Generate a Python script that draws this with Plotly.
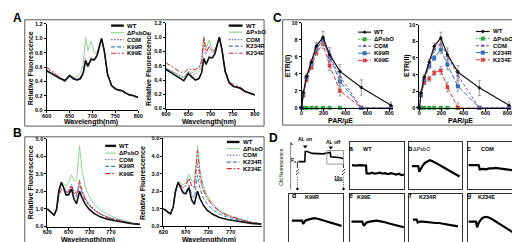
import plotly.graph_objects as go

W, H = 520, 242
FONT = "Liberation Sans"

# ---------------- data ----------------
names_L = ["WT", "ΔPsbO", "COM", "K99R", "K99E"]
names_R = ["WT", "ΔPsbO", "COM", "K234R", "K234E"]

wl_A = [600, 610, 620, 630, 640, 650, 658, 666, 674, 680, 685, 690, 697, 704, 710, 715, 720, 726, 733, 742, 752, 765, 778, 790, 800]
A1_WT = [0.55, 0.51, 0.48, 0.44, 0.41, 0.48, 0.44, 0.42, 0.44, 0.52, 0.69, 0.61, 0.71, 0.70, 0.76, 0.90, 1.00, 0.82, 0.50, 0.34, 0.29, 0.27, 0.22, 0.20, 0.18]
A1_PsbO = [0.55, 0.51, 0.48, 0.44, 0.42, 0.49, 0.46, 0.46, 0.52, 0.64, 1.02, 0.83, 0.96, 0.80, 0.80, 0.92, 1.00, 0.82, 0.50, 0.34, 0.29, 0.27, 0.22, 0.20, 0.18]
A1_COM = [0.58, 0.54, 0.50, 0.45, 0.42, 0.49, 0.45, 0.43, 0.46, 0.54, 0.72, 0.63, 0.73, 0.71, 0.77, 0.90, 1.00, 0.82, 0.50, 0.34, 0.29, 0.27, 0.22, 0.20, 0.18]
A1_K99R = [0.54, 0.50, 0.47, 0.43, 0.40, 0.47, 0.43, 0.41, 0.43, 0.51, 0.68, 0.60, 0.70, 0.69, 0.76, 0.90, 1.00, 0.81, 0.49, 0.33, 0.28, 0.26, 0.21, 0.19, 0.17]
A1_K99E = [0.60, 0.55, 0.50, 0.45, 0.42, 0.49, 0.45, 0.42, 0.45, 0.53, 0.70, 0.62, 0.71, 0.70, 0.76, 0.90, 1.00, 0.82, 0.50, 0.34, 0.29, 0.27, 0.22, 0.20, 0.18]

A2_WT = [0.55, 0.51, 0.47, 0.43, 0.39, 0.49, 0.44, 0.40, 0.42, 0.50, 0.70, 0.62, 0.72, 0.71, 0.77, 0.90, 1.00, 0.82, 0.52, 0.36, 0.31, 0.29, 0.24, 0.21, 0.19]
A2_PsbO = [0.56, 0.53, 0.50, 0.46, 0.44, 0.52, 0.50, 0.52, 0.56, 0.66, 1.02, 0.84, 0.96, 0.82, 0.82, 0.92, 1.00, 0.82, 0.52, 0.36, 0.31, 0.29, 0.24, 0.21, 0.19]
A2_COM = [0.57, 0.54, 0.50, 0.46, 0.43, 0.51, 0.48, 0.48, 0.52, 0.60, 0.90, 0.76, 0.88, 0.78, 0.80, 0.91, 1.00, 0.82, 0.52, 0.36, 0.31, 0.29, 0.24, 0.21, 0.19]
A2_K234R = [0.54, 0.50, 0.46, 0.42, 0.39, 0.48, 0.43, 0.40, 0.42, 0.50, 0.71, 0.63, 0.71, 0.71, 0.77, 0.90, 1.00, 0.82, 0.52, 0.36, 0.31, 0.29, 0.24, 0.21, 0.19]
A2_K234E = [0.64, 0.60, 0.56, 0.52, 0.50, 0.56, 0.54, 0.55, 0.58, 0.67, 1.00, 0.80, 0.86, 0.80, 0.82, 0.92, 1.00, 0.83, 0.54, 0.38, 0.33, 0.31, 0.25, 0.22, 0.20]

wl_B = [620, 628, 636, 642, 647, 653, 658, 664, 670, 677, 683, 689, 696, 702, 709, 718, 730, 745, 762, 780, 800, 820, 838]
B1_WT = [1.00, 0.85, 0.65, 1.00, 2.00, 2.52, 2.25, 1.80, 1.80, 2.15, 1.55, 1.30, 2.00, 1.65, 1.30, 1.00, 0.75, 0.55, 0.42, 0.33, 0.24, 0.16, 0.12]
B1_PsbO = [1.00, 0.85, 0.65, 1.00, 2.00, 2.55, 2.45, 2.30, 2.50, 2.95, 2.60, 2.65, 4.60, 3.20, 2.30, 1.75, 1.30, 0.95, 0.70, 0.50, 0.35, 0.22, 0.15]
B1_COM = [1.00, 0.85, 0.65, 1.00, 1.95, 2.45, 2.30, 2.00, 2.05, 2.40, 2.00, 1.90, 2.45, 2.05, 1.65, 1.30, 1.00, 0.75, 0.55, 0.42, 0.30, 0.19, 0.13]
B1_K99R = [1.00, 0.85, 0.65, 1.00, 1.90, 2.45, 2.25, 1.90, 1.95, 2.30, 1.85, 1.70, 2.30, 1.90, 1.55, 1.20, 0.95, 0.70, 0.52, 0.40, 0.28, 0.18, 0.13]
B1_K99E = [1.00, 0.85, 0.65, 0.95, 1.70, 2.10, 2.05, 1.90, 2.00, 2.35, 1.90, 1.80, 2.65, 2.00, 1.60, 1.25, 0.95, 0.70, 0.52, 0.40, 0.28, 0.18, 0.13]

B2_WT = [1.00, 0.85, 0.70, 1.10, 2.00, 2.50, 2.20, 1.90, 1.85, 2.20, 1.50, 1.25, 2.00, 1.55, 1.20, 0.90, 0.68, 0.50, 0.38, 0.30, 0.22, 0.15, 0.12]
B2_PsbO = [1.00, 0.85, 0.70, 1.10, 2.00, 2.55, 2.45, 2.35, 2.50, 2.95, 2.60, 2.50, 4.60, 3.10, 2.30, 1.75, 1.30, 0.92, 0.68, 0.50, 0.36, 0.22, 0.15]
B2_COM = [1.00, 0.85, 0.70, 1.10, 2.00, 2.50, 2.35, 2.20, 2.30, 2.70, 2.30, 2.20, 3.60, 2.60, 2.00, 1.55, 1.15, 0.82, 0.60, 0.45, 0.32, 0.20, 0.14]
B2_K234R = [1.00, 0.85, 0.70, 1.10, 1.95, 2.45, 2.25, 1.95, 1.95, 2.35, 1.80, 1.60, 2.90, 2.10, 1.60, 1.25, 0.95, 0.70, 0.52, 0.40, 0.28, 0.18, 0.13]
B2_K234E = [1.00, 0.85, 0.70, 1.10, 1.95, 2.45, 2.35, 2.20, 2.35, 2.75, 2.30, 2.20, 4.30, 2.90, 2.10, 1.60, 1.20, 0.85, 0.62, 0.47, 0.33, 0.20, 0.14]

PAR = [0, 15, 45, 90, 135, 195, 255, 350, 545, 815]
C1_WT = [0, 1.8, 3.7, 5.4, 7.3, 8.3, 6.3, 4.3, 2.4, 0.3]
C1_PsbO = [0, 0, 0, 0, 0, 0, 0, 0, 0, 0]
C1_COM = [0, 1.7, 3.6, 5.2, 7.0, 7.9, 6.1, 3.7, 0, 0]
C1_K99R = [0, 1.7, 3.6, 5.2, 7.0, 8.0, 6.0, 3.1, 0, 0]
C1_K99E = [0, 1.5, 3.3, 4.8, 6.5, 7.5, 5.0, 2.0, 0, 0]
C2_WT = [0, 1.8, 3.7, 5.5, 7.4, 8.4, 6.4, 4.3, 2.4, 0.3]
C2_PsbO = [0, 0, 0, 0, 0, 0, 0, 0, 0, 0]
C2_COM = [0, 1.7, 3.5, 5.2, 7.0, 7.7, 6.2, 3.9, 0, 0]
C2_K234R = [0, 1.6, 3.4, 5.0, 6.0, 7.0, 5.2, 2.6, 0, 0]
C2_K234E = [0, 1.5, 3.0, 3.5, 4.2, 4.5, 2.5, 0, 0, 0]
err_WT = [0, 0.2, 0.3, 0.3, 0.4, 0.7, 0.8, 0.8, 0.9, 0.4]
err_mut = [0, 0.2, 0.2, 0.3, 0.3, 0.5, 0.6, 0.6, 0, 0]

# D: schematic (time units, fluorescence units)
schem_t = [8, 14.5, 15, 17, 22, 27, 33, 38, 40.5, 41, 47, 51, 54]
schem_f = [30.5, 30.5, 41, 41, 39, 38.5, 38.5, 39.5, 40, 35.5, 35, 34.5, 33.5]

# D: traces per strain (relative time, relative fluorescence)
D_labels = ["a", "b", "c", "d", "e", "f", "g"]
D_names = ["WT", "ΔPsbO", "COM", "K99R", "K99E", "K234R", "K234E"]
Da_t = [0.03, 0.10, 0.17, 0.24, 0.29, 0.30, 0.35, 0.40, 0.45, 0.50, 0.55, 0.60, 0.65, 0.70, 0.75, 0.80, 0.85, 0.90, 0.95, 0.99]
Da_f = [0.51, 0.50, 0.51, 0.50, 0.50, 0.34, 0.33, 0.35, 0.33, 0.34, 0.35, 0.33, 0.34, 0.32, 0.34, 0.33, 0.31, 0.33, 0.30, 0.31]
Db_t = [0.05, 0.10, 0.17, 0.19, 0.22, 0.26, 0.30, 0.34, 0.39, 0.44, 0.50, 0.56, 0.62, 0.68, 0.74, 0.80, 0.86, 0.91, 0.95]
Db_f = [0.49, 0.49, 0.49, 0.37, 0.44, 0.51, 0.56, 0.59, 0.61, 0.59, 0.56, 0.52, 0.48, 0.44, 0.40, 0.36, 0.33, 0.30, 0.27]
Dc_t = [0.01, 0.08, 0.15, 0.20, 0.22, 0.28, 0.34, 0.40, 0.46, 0.52, 0.58, 0.64, 0.70, 0.76, 0.82, 0.88, 0.94, 0.98]
Dc_f = [0.51, 0.51, 0.51, 0.51, 0.42, 0.43, 0.42, 0.44, 0.44, 0.45, 0.44, 0.43, 0.43, 0.42, 0.41, 0.40, 0.39, 0.38]
Dd_t = [0.06, 0.12, 0.18, 0.25, 0.27, 0.31, 0.36, 0.42, 0.48, 0.54, 0.60, 0.66, 0.72, 0.78, 0.84, 0.90, 0.95, 0.98]
Dd_f = [0.45, 0.45, 0.45, 0.45, 0.38, 0.45, 0.47, 0.49, 0.50, 0.49, 0.47, 0.45, 0.43, 0.41, 0.39, 0.37, 0.35, 0.34]
De_t = [0.02, 0.08, 0.14, 0.22, 0.25, 0.30, 0.36, 0.42, 0.48, 0.54, 0.60, 0.66, 0.72, 0.78, 0.84, 0.90, 0.96, 0.99]
De_f = [0.43, 0.43, 0.43, 0.43, 0.34, 0.41, 0.43, 0.44, 0.45, 0.44, 0.43, 0.41, 0.39, 0.37, 0.35, 0.33, 0.32, 0.31]
Df_t = [0.07, 0.11, 0.14, 0.16, 0.20, 0.26, 0.32, 0.38, 0.44, 0.50, 0.56, 0.62, 0.68, 0.74, 0.80, 0.86, 0.92]
Df_f = [0.47, 0.47, 0.47, 0.41, 0.43, 0.43, 0.42, 0.42, 0.41, 0.40, 0.40, 0.39, 0.38, 0.37, 0.36, 0.34, 0.33]
Dg_t = [0.01, 0.07, 0.15, 0.17, 0.20, 0.24, 0.28, 0.33, 0.38, 0.44, 0.50, 0.56, 0.62, 0.68, 0.74, 0.80, 0.86, 0.92, 0.97]
Dg_f = [0.43, 0.43, 0.43, 0.31, 0.40, 0.47, 0.51, 0.53, 0.52, 0.49, 0.45, 0.41, 0.37, 0.33, 0.29, 0.25, 0.21, 0.16, 0.12]

# ---------------- styles / layout helpers ----------------
spec_style = [
    dict(color="#111111", width=1.6, dash="solid"),
    dict(color="#93d393", width=1.0, dash="solid"),
    dict(color="#8a5fb5", width=1.0, dash="1.5px,1.5px"),
    dict(color="#3b7fc6", width=1.0, dash="4px,2px"),
    dict(color="#d82a2a", width=1.0, dash="5px,2px,1.5px,2px"),
]
etr_style = [
    (dict(color="#111111", width=1.2, dash="solid"), dict(symbol="diamond", size=3, color="#111111")),
    (dict(color="#2ea83a", width=1.0, dash="1.5px,1.5px"), dict(symbol="square", size=4, color="#2ea83a")),
    (dict(color="#7a4fb5", width=1.0, dash="3px,2px"), dict(symbol="triangle-up", size=4, color="#7a4fb5")),
    (dict(color="#2f6fc2", width=1.0, dash="5px,2px"), dict(symbol="square", size=4, color="#2f6fc2")),
    (dict(color="#e03030", width=1.0, dash="4px,2px"), dict(symbol="x", size=4, color="#e03030")),
]


def dx(a, b):
    return [a / W, b / W]


def dy(top, bottom):
    return [1 - bottom / H, 1 - top / H]


tickfont = dict(family=FONT, size=5.5, color="black", weight="bold")
layout = dict(
    width=W, height=H, margin=dict(l=0, r=0, t=0, b=0),
    paper_bgcolor="white", plot_bgcolor="rgba(0,0,0,0)",
    showlegend=False, font=dict(family=FONT, color="black"),
)
shapes, annotations = [], []
fig = go.Figure()


def ax_names(n):
    s = "" if n == 1 else str(n)
    return "xaxis" + s, "yaxis" + s, "x" + s, "y" + s


def data_axes(n, xd, yd, xr, yr, xt, yt, yfmt):
    xa, ya, xr_, yr_ = ax_names(n)
    common = dict(showline=True, linecolor="black", linewidth=1, ticks="outside", ticklen=2,
                  tickwidth=1, tickcolor="black", showgrid=False, zeroline=False, tickfont=tickfont)
    layout[xa] = dict(domain=xd, anchor=yr_, range=xr, tickvals=xt, ticklabelstandoff=-2, **common)
    layout[ya] = dict(domain=yd, anchor=xr_, range=yr, tickvals=yt, tickformat=yfmt,
                      ticklabelstandoff=0, **common)
    return xr_, yr_


def blank_axes(n, xd, yd, xr, yr, box=False):
    xa, ya, xr_, yr_ = ax_names(n)
    b = dict(showgrid=False, zeroline=False, showticklabels=False, ticks="",
             showline=box, mirror=box, linecolor="#333333", linewidth=1)
    layout[xa] = dict(domain=xd, anchor=yr_, range=xr, **b)
    layout[ya] = dict(domain=yd, anchor=xr_, range=yr, **b)
    return xr_, yr_


# ---- A ----
A_sets = [
    (1, dx(34.3, 127.7), dy(13.3, 101.7), [A1_WT, A1_PsbO, A1_COM, A1_K99R, A1_K99E], names_L),
    (2, dx(156, 246.7), dy(12.3, 100), [A2_WT, A2_PsbO, A2_COM, A2_K234R, A2_K234E], names_R),
]
for n, xd, yd, series, nm in A_sets:
    xr_, yr_ = data_axes(n, xd, yd, [600, 800], [0, 1.2], [600, 650, 700, 750, 800],
                         [0, 0.2, 0.4, 0.6, 0.8, 1.0, 1.2], ".1f")
    for i in [1, 2, 3, 4, 0]:
        fig.add_trace(go.Scatter(x=wl_A, y=series[i], mode="lines", line=spec_style[i],
                                 name=nm[i], xaxis=xr_, yaxis=yr_))

# ---- B ----
B_sets = [
    (3, dx(35, 130), dy(131, 221), [B1_WT, B1_PsbO, B1_COM, B1_K99R, B1_K99E], names_L),
    (4, dx(153.3, 254), dy(130.7, 220.7), [B2_WT, B2_PsbO, B2_COM, B2_K234R, B2_K234E], names_R),
]
for n, xd, yd, series, nm in B_sets:
    xr_, yr_ = data_axes(n, xd, yd, [620, 840], [0, 5], [620, 670, 720, 770],
                         [0, 1, 2, 3, 4, 5], ".1f")
    for i in [1, 2, 3, 4, 0]:
        fig.add_trace(go.Scatter(x=wl_B, y=series[i], mode="lines", line=spec_style[i],
                                 name=nm[i], xaxis=xr_, yaxis=yr_))

# ---- C ----
C_sets = [
    (5, dx(294.3, 387), dy(12.3, 99.3), [C1_WT, C1_PsbO, C1_COM, C1_K99R, C1_K99E], names_L),
    (6, dx(414.3, 507.5), dy(14, 99.3), [C2_WT, C2_PsbO, C2_COM, C2_K234R, C2_K234E], names_R),
]
for n, xd, yd, series, nm in C_sets:
    xr_, yr_ = data_axes(n, xd, yd, [0, 830], [0, 10], [0, 200, 400, 600, 800],
                         [0, 2, 4, 6, 8, 10], "d")
    for i in [1, 4, 3, 2, 0]:
        ln, mk = etr_style[i]
        err = err_WT if i == 0 else err_mut
        fig.add_trace(go.Scatter(
            x=PAR, y=series[i], mode="lines+markers", line=ln, marker=mk, name=nm[i],
            error_y=dict(type="data", array=err, color="#8a8a8a", thickness=0.8, width=1.5,
                         visible=(i != 1)),
            cliponaxis=False, xaxis=xr_, yaxis=yr_))

# ---- D schematic ----
xs, ys = blank_axes(7, dx(283, 345), dy(128, 185), [0, 62], [0, 57])
fig.add_trace(go.Scatter(x=schem_t, y=schem_f, mode="lines", line=dict(color="black", width=1.6),
                         xaxis=xs, yaxis=ys))
# vertical axis of the schematic with arrow head
fig.add_trace(go.Scatter(x=[0, 0], y=[2, 48], mode="lines", line=dict(color="black", width=1),
                         xaxis=xs, yaxis=ys))
fig.add_trace(go.Scatter(x=[0], y=[49], mode="markers",
                         marker=dict(symbol="triangle-up", size=4, color="black"), xaxis=xs, yaxis=ys))
# break marks and dotted drop lines
for t0, f0 in [(7, 30.5), (54, 33.5)]:
    fig.add_trace(go.Scatter(x=[t0, t0], y=[f0, 24], mode="lines", line=dict(color="black", width=0.8),
                             xaxis=xs, yaxis=ys))
    fig.add_trace(go.Scatter(x=[t0 - 1.5, t0 + 1.5, None, t0 - 1.5, t0 + 1.5], y=[20, 23, None, 17, 20],
                             mode="lines", line=dict(color="black", width=0.8), xaxis=xs, yaxis=ys))
    fig.add_trace(go.Scatter(x=[t0, t0], y=[15, 3], mode="lines", line=dict(color="black", width=0.8, dash="1px,1.5px"),
                             xaxis=xs, yaxis=ys))
    fig.add_trace(go.Scatter(x=[t0], y=[2.5], mode="markers", marker=dict(size=2.5, color="black"),
                             xaxis=xs, yaxis=ys))
fig.add_trace(go.Scatter(x=[15, 41], y=[46, 45], mode="markers",
                         marker=dict(symbol="triangle-down", size=4, color="black"), xaxis=xs, yaxis=ys))
shapes.append(dict(type="rect", xref=xs, yref=ys, x0=37, x1=54, y0=28, y1=42,
                   line=dict(color="#9a9a9a", width=1)))
shapes.append(dict(type="line", xref=xs, yref=ys, x0=45, x1=53, y0=11, y1=11,
                   line=dict(color="black", width=0.8)))
for x, y, t in [(15, 54, "AL on"), (44, 50.5, "AL off"), (49, 14, "10s"), (3.5, 31.5, "F<sub>o</sub>")]:
    annotations.append(dict(xref=xs, yref=ys, x=x, y=y, text=t, showarrow=False,
                            font=dict(size=5, family=FONT, weight="bold"), xanchor="center", yanchor="middle"))
annotations.append(dict(xref="paper", yref="paper", x=273 / W, y=1 - 160 / H, text="Chl fluorescence",
                        textangle=-90, showarrow=False, font=dict(size=5, family=FONT)))

# ---- D boxes ----
D_boxes = [(344, 399, 134, 183), (404, 458, 134, 183), (464, 518, 134, 183),
           (281, 336, 188, 237), (344, 399, 188, 237), (404, 458, 188, 237), (464, 518, 188, 237)]
D_data = [(Da_t, Da_f), (Db_t, Db_f), (Dc_t, Dc_f), (Dd_t, Dd_f), (De_t, De_f), (Df_t, Df_f), (Dg_t, Dg_f)]
D_name_x = [368, 428, 492, 305, 367, 433, 493]
for k in range(7):
    x0, x1, y0, y1 = D_boxes[k]
    xa_, ya_ = blank_axes(8 + k, dx(x0, x1), dy(y0, y1), [0, 1], [0, 1], box=True)
    t, f = D_data[k]
    fig.add_trace(go.Scatter(x=t, y=f, mode="lines", line=dict(color="black", width=2.2),
                             xaxis=xa_, yaxis=ya_))
    annotations.append(dict(xref="paper", yref="paper", x=(x0 + 5) / W, y=1 - (y0 + 7) / H,
                            text=D_labels[k], showarrow=False,
                            font=dict(size=7, family=FONT, weight="bold")))
    annotations.append(dict(xref="paper", yref="paper", x=D_name_x[k] / W, y=1 - (y0 + 7.5) / H,
                            text=D_names[k], showarrow=False,
                            font=dict(size=5.5, family=FONT, weight="bold" if k != 1 else "normal")))

# ---- overlay px axes for legends ----
xo, yo = blank_axes(15, [0, 1], [0, 1], [0, W], [H, 0])
leg_sets = [
    ("spec", 100, 113, [15, 22.3, 29.3, 36.7, 43.3], names_L),
    ("spec", 220, 234, [15, 21.7, 29.3, 36, 43.3], names_R),
    ("spec", 94, 105, [138.3, 145.7, 152.3, 159.3, 166.7], names_L),
    ("spec", 218, 231, [134.3, 141, 147.7, 155, 161.7], names_R),
    ("etr", 352, 365, [21.7, 29, 36, 43.3, 50.7], names_L),
    ("etr", 472, 486, [21, 28.3, 35.7, 42.7, 50], names_R),
]
for kind, lx0, lx1, lys, nm in leg_sets:
    for i in range(5):
        if kind == "spec":
            ln = dict(spec_style[i])
            ln["width"] = 2.4 if i == 0 else 1.2
            fig.add_trace(go.Scatter(x=[lx0, lx1], y=[lys[i], lys[i]], mode="lines", line=ln,
                                     xaxis=xo, yaxis=yo))
        else:
            ln, mk = etr_style[i]
            fig.add_trace(go.Scatter(x=[lx0, lx1], y=[lys[i], lys[i]], mode="lines",
                                     line=ln, xaxis=xo, yaxis=yo))
            fig.add_trace(go.Scatter(x=[(lx0 + lx1) / 2], y=[lys[i]], mode="markers",
                                     marker=mk, xaxis=xo, yaxis=yo))
        annotations.append(dict(xref=xo, yref=yo, x=lx1 + 1.5, y=lys[i], text=nm[i], showarrow=False,
                                xanchor="left", yanchor="middle",
                                font=dict(size=6, family=FONT, weight="bold")))

# ---- axis titles ----
titles = [
    ("Relative Fluorescence", 18, 59, -90), ("Relative Fluorescence", 138, 59, -90),
    ("Wavelength(nm)", 80, 114, 0), ("Wavelength(nm)", 200, 114, 0),
    ("Relative Fluorescence", 18, 176, -90), ("Relative Fluorescence", 132, 176, -90),
    ("Wavelength(nm)", 76, 235, 0), ("Wavelength(nm)", 200, 235, 0),
    ("ETR(II)", 280, 56, -90), ("ETR(II)", 401, 56, -90),
    ("PAR/µE", 334, 112.5, 0), ("PAR/µE", 456, 112.5, 0),
]
for t, x, y, ang in titles:
    annotations.append(dict(xref=xo, yref=yo, x=x, y=y, text=t, textangle=ang, showarrow=False,
                            xanchor="center", yanchor="middle",
                            font=dict(size=7, family=FONT, weight="bold")))

# panel letters
for t, x, y in [("A", 5, 7), ("B", 5, 125), ("C", 270, 7), ("D", 266, 130)]:
    annotations.append(dict(xref=xo, yref=yo, x=x, y=y, text=t, showarrow=False,
                            xanchor="center", yanchor="middle",
                            font=dict(size=12, family=FONT, weight="bold")))

# panel frames
for x0, x1, y0, y1 in [(12, 256, 9, 118), (12, 256, 129, 240), (275, 518, 9, 117)]:
    shapes.append(dict(type="rect", xref="paper", yref="paper", x0=x0 / W, x1=x1 / W,
                       y0=1 - y1 / H, y1=1 - y0 / H, line=dict(color="#5a5a5a", width=1)))

layout["shapes"] = shapes
layout["annotations"] = annotations
fig.update_layout(**layout)
fig.write_html("out.html")
